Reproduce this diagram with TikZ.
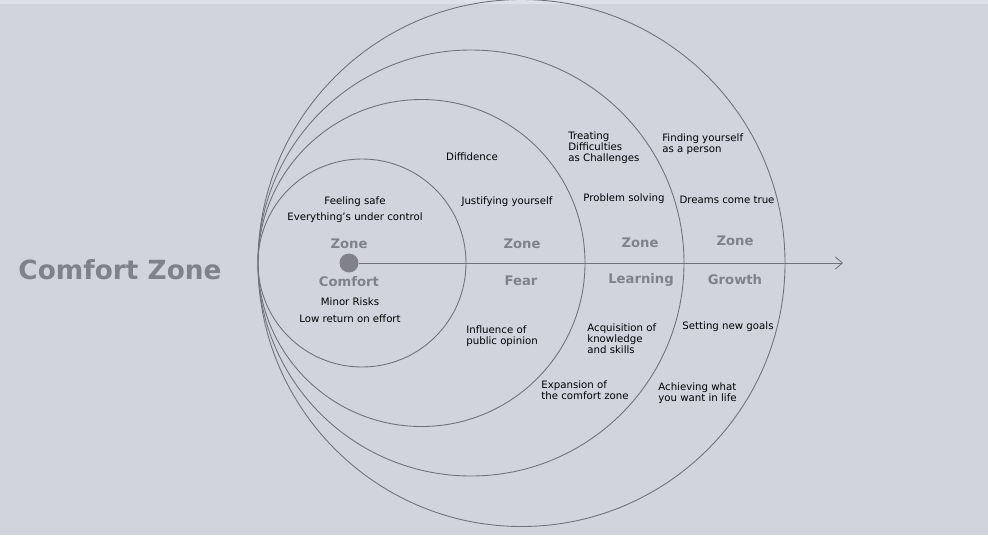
\documentclass[tikz,border=0pt]{standalone}
\usepackage{fontspec}
\setmainfont{DejaVu Sans}
\usetikzlibrary{arrows.meta}
\definecolor{bgcol}{RGB}{209,212,221}
\definecolor{bandcol}{RGB}{222,225,233}
\definecolor{zonecol}{RGB}{128,129,141}
\definecolor{linecol}{RGB}{112,113,124}
\begin{document}
\begin{tikzpicture}[x=0.02cm,y=-0.02cm,
        ring/.style={draw=linecol,line width=0.5pt},
        txt/.style={font=\fontsize{5.8}{6.3}\selectfont,inner sep=0pt,align=left},
        zone/.style={font=\fontsize{7.5}{9}\selectfont\bfseries,text=zonecol,inner sep=0pt},
        myarrow/.style={-{Straight Barb[length=4pt,width=7pt]}}
        ]
        \useasboundingbox (0,0) rectangle (988,535);
        \fill[bgcol] (0,0) rectangle (988,535);
        \fill[bandcol] (0,0) rectangle (988,4);

        % rings, all touching at the left
        \draw[ring] (362,263) circle[radius=104*0.02cm];
        \draw[ring] (421.5,263) circle[radius=163.5*0.02cm];
        \draw[ring] (471,263) circle[radius=213*0.02cm];
        \draw[ring] (521.5,263) circle[radius=263.5*0.02cm];

        \node[circle,fill=zonecol,minimum size=19*0.02cm,inner sep=0pt] (dot) at (349,263) {};
        \coordinate (tip) at (843,263);
        \draw[linecol,line width=0.5pt,myarrow] (dot) -- (tip);

        \node[font=\fontsize{15}{18}\selectfont\bfseries,text=zonecol] (title) at (120,270) {Comfort Zone};

        % zone names
        \foreach \n/\x/\y/\t in {z1/349/244/Zone, z2/349/282/Comfort,
            z3/522/244/Zone, z4/521/281/Fear,
            z5/640/243/Zone, z6/641/280/Learning,
            z7/735/241/Zone, z8/735/280/Growth}
            \node[zone] (\n) at (\x,\y) {\t};

        % centred notes
        \foreach \n/\x/\y/\t in {a1/355/202/Feeling safe,
            a2/355/218/Everything's under control,
            a3/350/302/Minor Risks, a4/350/319/Low return on effort,
            b1/472/157/Diffidence, b2/507/202/Justifying yourself,
            c1/624/199/Problem solving, d1/727/200/Dreams come true,
            d2/728/327/Setting new goals}
            \node[txt] (\n) at (\x,\y) {\t};

        % left aligned notes
        \node[txt,anchor=west] (b3) at (466,336) {Influence of\\public opinion};
        \node[txt,anchor=west] (c2) at (568,148) {Treating\\Difficulties\\as Challenges};
        \node[txt,anchor=west] (c3) at (587,339) {Acquisition of\\knowledge\\and skills};
        \node[txt,anchor=west] (c4) at (541,390) {Expansion of\\the comfort zone};
        \node[txt,anchor=west] (d3) at (662,144) {Finding yourself\\as a person};
        \node[txt,anchor=west] (d4) at (658,393) {Achieving what\\you want in life};
\end{tikzpicture}
\end{document}
